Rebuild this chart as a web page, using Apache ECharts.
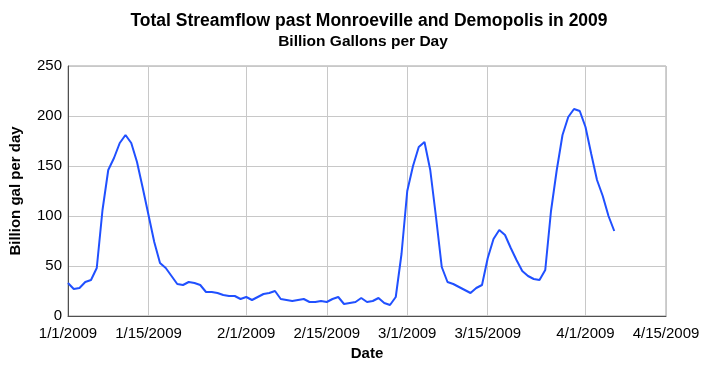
<!DOCTYPE html>
<html><head><meta charset="utf-8">
<script src="https://cdn.jsdelivr.net/npm/echarts@6/dist/echarts.min.js"></script>
<style>html,body{margin:0;padding:0;background:#fff}#c{width:712px;height:366px}</style>
</head><body><div id="c"></div>
<script>
// Category dates: 1/1/2009 .. 4/15/2009 (daily)
const dayCount = 105;
const dates = [];
for (let i = 0; i < dayCount; i++) {
  const d = new Date(2009, 0, 1 + i);
  dates.push((d.getMonth() + 1) + '/' + d.getDate() + '/' + d.getFullYear());
}
const tickLabels = ['1/1/2009','1/15/2009','2/1/2009','2/15/2009','3/1/2009','3/15/2009','4/1/2009','4/15/2009'];
// Daily streamflow, billion gal per day, from 1/1/2009
const flow = [33,27,28,34,36,48,106,146,158,173,181,173,154,128,101,74,53,48,40,32,
  31,34,33,31,24,24,23,21,20,20,17,19,16,19,22,23,25,17,16,15,
  16,17,14,14,15,14,17,19,12,13,14,18,14,15,18,13,11,19,62,125,
  150,169,174,146,99,49,34,32,29,26,23,28,31,58,77,86,81,68,56,45,
  40,37,36,46,105,146,181,199,207,205,189,162,136,120,100,85];
const yTicks = [0,50,100,150,200,250];

const FONT = 'Liberation Sans, Arial, sans-serif';
const showIdx = (i, v) => tickLabels.indexOf(v) >= 0;
const chart = echarts.init(document.getElementById('c'), null, {renderer: 'canvas'});
chart.setOption({
  animation: false,
  backgroundColor: '#fff',
  title: [
    {text: 'Total Streamflow past Monroeville and Demopolis in 2009', left: 364, textAlign: 'center', top: 7,
     textStyle: {fontFamily: FONT, fontWeight: 'bold', fontSize: 17.5, color: '#000'}},
    {text: 'Billion Gallons per Day', left: 358, textAlign: 'center', top: 29,
     textStyle: {fontFamily: FONT, fontWeight: 'bold', fontSize: 15.5, color: '#000'}}
  ],
  grid: {left: 67, right: 46, top: 66, bottom: 50, show: true, borderColor: '#a0a0a0', borderWidth: 1},
  xAxis: {
    type: 'category', data: dates, boundaryGap: false,
    name: 'Date', nameLocation: 'middle', nameGap: 29,
    nameTextStyle: {fontFamily: FONT, fontWeight: 'bold', fontSize: 15, color: '#000'},
    axisLine: {lineStyle: {color: '#505050', width: 1}},
    axisTick: {show: false},
    axisLabel: {interval: showIdx, fontFamily: FONT, fontSize: 15, color: '#000', margin: 10, showMaxLabel: true, showMinLabel: true},
    splitLine: {show: true, interval: showIdx, lineStyle: {color: '#c8c8c8', width: 1}}
  },
  yAxis: {
    type: 'value', min: yTicks[0], max: yTicks[yTicks.length - 1], interval: 50,
    name: 'Billion gal per day', nameLocation: 'middle', nameGap: 45, nameRotate: 90,
    nameTextStyle: {fontFamily: FONT, fontWeight: 'bold', fontSize: 15, color: '#000'},
    axisLine: {show: true, lineStyle: {color: '#505050', width: 1}},
    axisTick: {show: false},
    axisLabel: {fontFamily: FONT, fontSize: 15, color: '#000', margin: 6},
    splitLine: {show: true, lineStyle: {color: '#c8c8c8', width: 1}}
  },
  series: [{
    type: 'line', data: flow, showSymbol: false, symbol: 'none',
    lineStyle: {color: '#2050ff', width: 2}, itemStyle: {color: '#2050ff'}
  }]
});
</script></body></html>
